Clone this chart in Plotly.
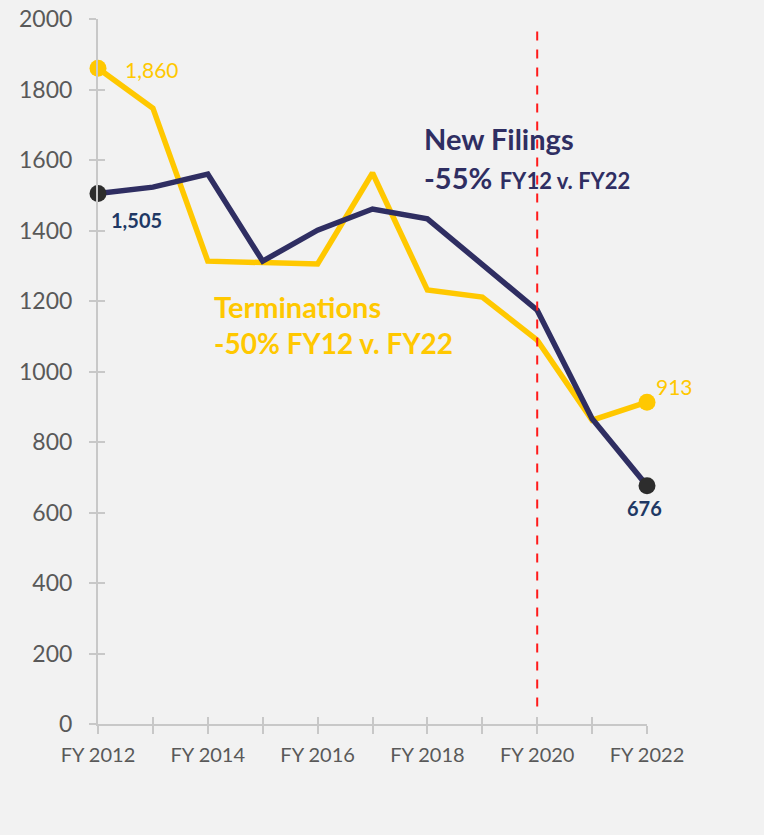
import plotly.graph_objects as go

years = list(range(2012, 2023))
tick_labels = ["FY 2012", "", "FY 2014", "", "FY 2016", "", "FY 2018", "", "FY 2020", "", "FY 2022"]
new_filings = [1505, 1523, 1560, 1313, 1401, 1461, 1433, 1305, 1174, 866, 676]
terminations = [1860, 1747, 1313, 1310, 1305, 1563, 1231, 1211, 1089, 862, 913]
y_ticks = list(range(0, 2001, 200))
cutoff_year = 2020

NAVY = "#2f2e62"
LABEL_NAVY = "#203864"
YELLOW = "#ffc800"
GRID = "#c8c8c8"
BG = "#f2f2f2"
FONT = "Lato"

fig = go.Figure()

fig.add_trace(go.Scatter(x=years, y=terminations, mode="lines", line=dict(color=YELLOW, width=5.5),
                         cliponaxis=False, showlegend=False, hoverinfo="skip"))
fig.add_trace(go.Scatter(x=years, y=new_filings, mode="lines", line=dict(color=NAVY, width=5.5),
                         cliponaxis=False, showlegend=False, hoverinfo="skip"))

# end point markers
fig.add_trace(go.Scatter(x=[years[0], years[-1]], y=[terminations[0], terminations[-1]], mode="markers",
                         marker=dict(color=YELLOW, size=17), cliponaxis=False, showlegend=False))
fig.add_trace(go.Scatter(x=[years[0], years[-1]], y=[new_filings[0], new_filings[-1]], mode="markers",
                         marker=dict(color="#2d2d2d", size=17), cliponaxis=False, showlegend=False))

# invisible trace on overlay axes, used only to draw the inner half of the ticks
fig.add_trace(go.Scatter(x=years, y=new_filings, mode="none", xaxis="x2", yaxis="y2",
                         showlegend=False, hoverinfo="skip"))

fig.add_shape(type="line", x0=cutoff_year, x1=cutoff_year, y0=50, y1=1980, xref="x", yref="y",
              line=dict(color="#ff1a1a", width=2, dash="dash"))

# point labels
fig.add_annotation(x=years[0], y=terminations[0], text=f"{terminations[0]:,}", showarrow=False,
                   xanchor="left", xshift=25, yshift=-1, font=dict(color=YELLOW, size=21, family=FONT))
fig.add_annotation(x=years[0], y=new_filings[0], text=f"<b>{new_filings[0]:,}</b>", showarrow=False,
                   xanchor="left", xshift=11, yshift=-27, font=dict(color=LABEL_NAVY, size=20, family=FONT))
fig.add_annotation(x=years[-1], y=terminations[-1], text=f"{terminations[-1]:,}", showarrow=False,
                   xanchor="left", xshift=7, yshift=16, font=dict(color=YELLOW, size=21, family=FONT))
fig.add_annotation(x=years[-1], y=new_filings[-1], text=f"<b>{new_filings[-1]:,}</b>", showarrow=False,
                   xanchor="center", xshift=-3, yshift=-22, font=dict(color=LABEL_NAVY, size=20, family=FONT))

# series callouts
fig.add_annotation(x=2017.9, y=1660, text="<b>New Filings</b>", showarrow=False, xanchor="left",
                   font=dict(color=NAVY, size=29, family=FONT))
fig.add_annotation(x=2017.9, y=1550, text="<b>-55%</b> <b><span style='font-size:22px'>FY12 v. FY22</span></b>",
                   showarrow=False, xanchor="left", font=dict(color=NAVY, size=29, family=FONT))
fig.add_annotation(x=2014.08, y=1185, text="<b>Terminations</b>", showarrow=False, xanchor="left",
                   font=dict(color=YELLOW, size=29, family=FONT))
fig.add_annotation(x=2014.08, y=1082, text="<b>-50% FY12 v. FY22</b>", showarrow=False, xanchor="left",
                   font=dict(color=YELLOW, size=28, family=FONT))

fig.update_layout(
    width=764, height=835,
    paper_bgcolor=BG, plot_bgcolor=BG,
    margin=dict(l=98, r=117, t=19, b=111),
    font=dict(family=FONT, color="#595959"),
    xaxis=dict(range=[2012, 2022], tickvals=years, ticktext=tick_labels, ticks="outside", ticklen=8,
               tickwidth=2, tickcolor=GRID, showline=True, linecolor=GRID, linewidth=2, showgrid=False,
               zeroline=False, tickfont=dict(size=20, color="#595959"), ticklabelstandoff=4,
               automargin=False),
    yaxis=dict(range=[0, 2000], tickvals=y_ticks, ticks="outside", ticklen=7, tickwidth=2, tickcolor=GRID,
               showline=True, linecolor=GRID, linewidth=2, showgrid=False, zeroline=False,
               tickfont=dict(size=23, color="#595959"), ticklabelstandoff=12, automargin=False),
    xaxis2=dict(range=[2012, 2022], tickvals=years, ticks="inside", ticklen=7, tickwidth=2, tickcolor=GRID,
                showticklabels=False, showline=False, showgrid=False, zeroline=False, overlaying="x",
                anchor="y2", side="bottom", automargin=False),
    yaxis2=dict(range=[0, 2000], tickvals=y_ticks, ticks="inside", ticklen=7, tickwidth=2, tickcolor=GRID,
                showticklabels=False, showline=False, showgrid=False, zeroline=False, overlaying="y",
                anchor="x2", side="left", automargin=False),
)

# page body has a default margin; drop it so the figure fills the window
fig.write_html("out.html", config={"displayModeBar": False},
               post_script="document.body.style.margin='0';")
